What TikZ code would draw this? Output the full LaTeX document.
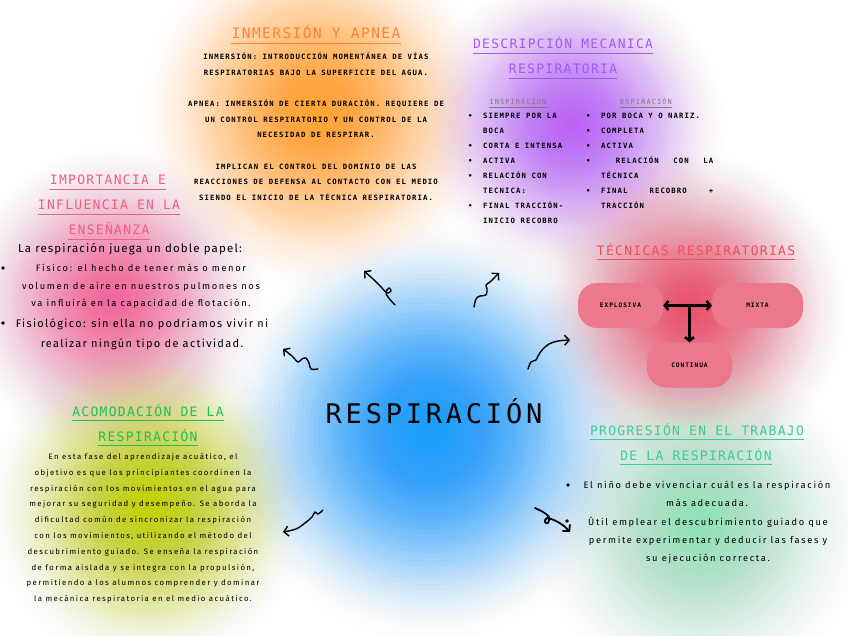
\documentclass[tikz,border=0pt]{standalone}
\usepackage{fontspec}
\usetikzlibrary{arrows.meta,calc}
\newfontfamily\bigf[LetterSpace=14]{DejaVu Sans Mono}
\newfontfamily\ttlf[LetterSpace=10]{DejaVu Sans Mono}
\newfontfamily\capf[LetterSpace=15]{DejaVu Sans Mono}
\newfontfamily\handf[LetterSpace=10]{Fira Sans}
\newfontfamily\handw[LetterSpace=18]{Fira Sans}
\definecolor{cBlue}{RGB}{30,160,250}
\definecolor{cOrange}{RGB}{255,165,45}
\definecolor{cPurple}{RGB}{190,100,245}
\definecolor{cPink}{RGB}{240,105,160}
\definecolor{cYellow}{RGB}{195,210,0}
\definecolor{cRed}{RGB}{232,80,110}
\definecolor{cGreen}{RGB}{140,225,185}
\definecolor{tOrange}{RGB}{255,130,50}
\definecolor{tPurple}{RGB}{160,90,245}
\definecolor{tPink}{RGB}{240,95,125}
\definecolor{tGreen}{RGB}{30,190,90}
\definecolor{tRed}{RGB}{240,80,95}
\definecolor{tTeal}{RGB}{60,205,150}
\definecolor{tGray}{RGB}{125,125,125}
\definecolor{pillc}{RGB}{235,120,140}
\newcommand\ttl[5]{%
  \node[ttlnode, text=#4] (#1) at (#2,#3) {#5};
  \draw[#4, line width=1.6pt] ([yshift=-4.5pt]#1.base west) -- ([yshift=-4.5pt]#1.base east);}
\newcommand\glow[5]{% color, x, y, radius, max opacity step
  \foreach \k in {1,...,45}{\pgfmathsetmacro\gop{#5*(1-(\k-1)/45)}%
    \fill[#1, opacity=\gop] (#2,#3) circle[radius={#4*\k/45*1pt}];}}
\tikzset{
  ttlnode/.style={font=\ttlf\fontsize{13}{15}\selectfont, inner sep=0pt, anchor=base},
  capbody/.style={font=\capf\bfseries\fontsize{7.3}{15.6}\selectfont, inner sep=0pt, align=center, anchor=north},
  collist/.style={font=\capf\bfseries\fontsize{7.3}{15}\selectfont, inner sep=0pt, align=left, anchor=north west},
  colhead/.style={font=\capf\fontsize{7}{8}\selectfont, text=tGray, inner sep=0pt, anchor=base},
  pill/.style={fill=pillc, rounded corners=19pt, minimum width=85pt, minimum height=45pt, inner sep=0pt, font=\capf\bfseries\fontsize{6.2}{8}\selectfont},
  squig/.style={line width=1.4pt, line cap=round, line join=round, -{Straight Barb[length=4.5pt,width=10pt]}},
  dbl/.style={line width=2.6pt, {Straight Barb[length=3.5pt,width=9pt]}-{Straight Barb[length=3.5pt,width=9pt]}},
  sgl/.style={line width=2.6pt, -{Straight Barb[length=3.5pt,width=9pt]}},
  dot/.style={circle, fill=black, inner sep=0pt, minimum size=3.6pt}
}
\begin{document}
\begin{tikzpicture}[x=1pt,y=-1pt]
\useasboundingbox (0,0) rectangle (848,636);
\fill[white] (0,0) rectangle (848,636);
% glows
\begin{scope}
\clip (0,0) rectangle (848,636);
\glow{cOrange}{318}{112}{180}{0.105}
\glow{cPurple}{572}{125}{155}{0.1}
\glow{cPink}{112}{300}{155}{0.1}
\glow{cYellow}{150}{505}{165}{0.1}
\glow{cRed}{690}{308}{160}{0.1}
\glow{cGreen}{700}{525}{170}{0.075}
\glow{cBlue}{430}{432}{210}{0.13}
\end{scope}

% center
\node[font=\bigf\fontsize{27}{30}\selectfont, inner sep=0pt, anchor=base] (center) at (434,423) {RESPIRACIÓN};

% INMERSION Y APNEA
\ttl{t1}{316}{39}{tOrange}{\fontsize{14.5}{16}\selectfont INMERSIÓN Y APNEA}
\node[capbody] (b1) at (316,53) {INMERSIÓN: INTRODUCCIÓN MOMENTÁNEA DE VÍAS\\
RESPIRATORIAS BAJO LA SUPERFICIE DEL AGUA.\\[15.6pt]
APNEA: INMERSIÓN DE CIERTA DURACIÓN. REQUIERE DE\\
UN CONTROL RESPIRATORIO Y UN CONTROL DE LA\\
NECESIDAD DE RESPIRAR.\\[15.6pt]
IMPLICAN EL CONTROL DEL DOMINIO DE LAS\\
REACCIONES DE DEFENSA AL CONTACTO CON EL MEDIO\\
SIENDO EL INICIO DE LA TÉCNICA RESPIRATORIA.};

% DESCRIPCION MECANICA
\ttl{t2a}{563}{49}{tPurple}{DESCRIPCIÓN MECANICA}
\ttl{t2b}{563}{74}{tPurple}{RESPIRATORIA}
\node[colhead] (h1) at (518,105) {INSPIRACIÓN};
\draw[tGray, line width=0.6pt] ([yshift=-2pt]h1.base west) -- ([yshift=-2pt]h1.base east);
\node[colhead] (h2) at (646,105) {ESPIRACIÓN};
\draw[tGray, line width=0.6pt] ([yshift=-2pt]h2.base west) -- ([yshift=-2pt]h2.base east);
\node[collist] (c1) at (468,113) {\makebox[15pt][l]{\textbullet}SIEMPRE POR LA\\
\hspace*{15pt}BOCA\\
\makebox[15pt][l]{\textbullet}CORTA E INTENSA\\
\makebox[15pt][l]{\textbullet}ACTIVA\\
\makebox[15pt][l]{\textbullet}RELACIÓN CON\\
\hspace*{15pt}TECNICA:\\
\makebox[15pt][l]{\textbullet}FINAL TRACCIÓN-\\
\hspace*{15pt}INICIO RECOBRO};
\node[collist] (c2) at (586,113) {\makebox[15pt][l]{\textbullet}POR BOCA Y O NARIZ.\\
\makebox[15pt][l]{\textbullet}COMPLETA\\
\makebox[15pt][l]{\textbullet}ACTIVA\\
\makebox[15pt][l]{\textbullet}\makebox[112pt][l]{\hfill RELACIÓN\hfill CON\hfill LA}\\
\hspace*{15pt}TÉCNICA\\
\makebox[15pt][l]{\textbullet}\makebox[112pt][l]{FINAL\hfill RECOBRO\hfill +}\\
\hspace*{15pt}TRACCIÓN};

% IMPORTANCIA
\ttl{t3a}{108}{185}{tPink}{IMPORTANCIA E}
\ttl{t3b}{109}{210}{tPink}{INFLUENCIA EN LA}
\ttl{t3c}{109}{235}{tPink}{ENSEÑANZA}
\node[font=\handf\fontsize{11.5}{14}\selectfont, inner sep=0pt, anchor=base] (p0) at (130,252) {La respiración juega un doble papel:};
\node[dot] (d1) at (3,268) {};
\node[font=\handw\fontsize{9.3}{17.5}\selectfont, inner sep=0pt, align=center, anchor=north] (p1) at (141,264) {Físico: el hecho de tener más o menor\\
volumen de aire en nuestros pulmones nos\\
va influirá en la capacidad de flotación.};
\node[dot] (d2) at (3,323) {};
\node[font=\handf\addfontfeatures{LetterSpace=12}\fontsize{11}{20}\selectfont, inner sep=0pt, align=center, anchor=north] (p2) at (142,318) {Fisiológico: sin ella no podríamos vivir ni\\
realizar ningún tipo de actividad.};

% ACOMODACION
\ttl{t4a}{148}{416}{tGreen}{ACOMODACIÓN DE LA}
\ttl{t4b}{148}{441}{tGreen}{RESPIRACIÓN}
\node[font=\handw\fontsize{7.8}{15.8}\selectfont, inner sep=0pt, align=center, anchor=north] (p3) at (143,453) {En esta fase del aprendizaje acuático, el\\
objetivo es que los principiantes coordinen la\\
respiración con los movimientos en el agua para\\
mejorar su seguridad y desempeño. Se aborda la\\
dificultad común de sincronizar la respiración\\
con los movimientos, utilizando el método del\\
descubrimiento guiado. Se enseña la respiración\\
de forma aislada y se integra con la propulsión,\\
permitiendo a los alumnos comprender y dominar\\
la mecánica respiratoria en el medio acuático.};

% TECNICAS
\ttl{t5}{696}{255}{tRed}{TÉCNICAS RESPIRATORIAS}
\node[pill] (ex) at (620.5,305.5) {EXPLOSIVA};
\node[pill, minimum width=91pt] (mx) at (757.5,305.5) {MIXTA};
\node[pill] (ct) at (689.5,365) {CONTINUA};
\coordinate (jn) at (ct.north |- ex.east);
\draw[dbl] (ex.east) -- (mx.west);
\draw[sgl] (jn) -- (ct.north);

% PROGRESION
\ttl{t6a}{697}{435}{tTeal}{PROGRESIÓN EN EL TRABAJO}
\ttl{t6b}{696}{460}{tTeal}{DE LA RESPIRACIÓN}
\node[dot] (d3) at (568,485) {};
\node[font=\handw\fontsize{9.3}{17.5}\selectfont, inner sep=0pt, align=center, anchor=north] (q1) at (707,481) {El niño debe vivenciar cuál es la respiración\\
más adecuada.};
\node[dot] (d4) at (567,521) {};
\node[font=\handw\fontsize{9.3}{18}\selectfont, inner sep=0pt, align=center, anchor=north] (q2) at (708,517) {Útil emplear el descubrimiento guiado que\\
permite experimentar y deducir las fases y\\
su ejecución correcta.};

% squiggle arrows
\coordinate (a1s) at (395,305); \coordinate (a1e) at (364,271);
\coordinate (a2s) at (474,307); \coordinate (a2e) at (499,273);
\coordinate (a3s) at (318,369); \coordinate (a3e) at (283,349);
\coordinate (a4s) at (528,369); \coordinate (a4e) at (570,340);
\coordinate (a5s) at (323,510); \coordinate (a5e) at (283,532);
\coordinate (a6s) at (535,508); \coordinate (a6e) at (570,532);
\draw[squig] plot[smooth, tension=0.6] coordinates {(a1s) (388,297) (386,292) (389,288) (391,291) (387,293) (382,288) (373,279) (a1e)};
\draw[squig] plot[smooth, tension=0.6] coordinates {(a2s) (476,299) (480,296) (486,295) (487,289) (486,285) (490,282) (495,277) (a2e)};
\draw[squig] plot[smooth, tension=0.5] coordinates {(a3s) (311,369) (309,363) (306,358) (302,359) (298,362) (292,356) (a3e)};
\draw[squig] plot[smooth, tension=0.6] coordinates {(a4s) (531,362) (536,360) (538,356) (542,350) (549,344) (558,341) (a4e)};
\draw[squig] plot[smooth, tension=0.6] coordinates {(a5s) (318,514) (315,512) (312,517) (305,523) (296,529) (a5e)};
\draw[squig, line width=1.8pt] plot[smooth, tension=0.6] coordinates {(a6s) (543,512) (549,517) (548,523) (545,522) (547,518) (556,521) (564,526) (a6e)};
\end{tikzpicture}
\end{document}
